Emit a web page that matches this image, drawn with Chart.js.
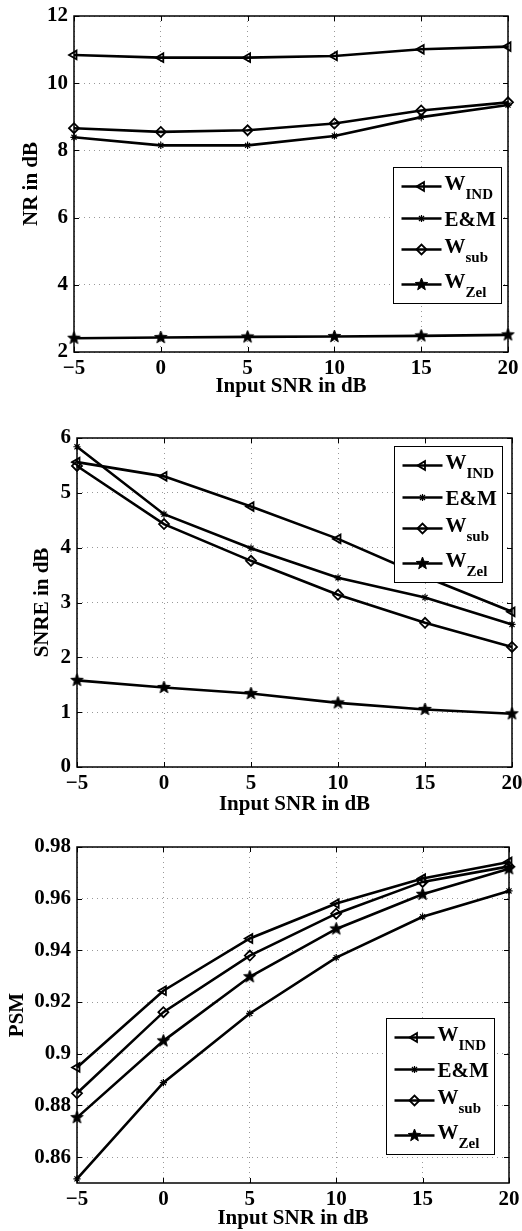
<!DOCTYPE html>
<html>
<head>
<meta charset="utf-8">
<script src="https://cdn.jsdelivr.net/npm/chart.js@4.4.0/dist/chart.umd.min.js"></script>
<style>
  html, body { margin: 0; padding: 0; background: #fff; }
  body { width: 522px; height: 1231px; position: relative; overflow: hidden; }
  canvas { position: absolute; left: 0; }
</style>
</head>
<body>
<canvas id="nrChart" width="522" height="399" style="top:0"></canvas>
<canvas id="snreChart" width="522" height="418" style="top:399px"></canvas>
<canvas id="psmChart" width="522" height="414" style="top:817px"></canvas>
<script>
/* ------------------------------------------------------------------
   DATA
   ------------------------------------------------------------------ */
const snrLevels = [-5, 0, 5, 10, 15, 20];

// legend labels: [main text, subscript]
const legendLabels = [['W', 'IND'], ['E&M', ''], ['W', 'sub'], ['W', 'Zel']];

// NR in dB
const nrWind = [10.84, 10.76, 10.76, 10.81, 11.01, 11.09];
const nrEM   = [8.39, 8.15, 8.15, 8.43, 8.99, 9.35];
const nrWsub = [8.66, 8.55, 8.60, 8.80, 9.19, 9.43];
const nrWzel = [2.41, 2.43, 2.45, 2.46, 2.48, 2.51];
const nrTicks = [2, 4, 6, 8, 10, 12];

// SNRE in dB
const snreWind = [5.56, 5.30, 4.75, 4.16, 3.47, 2.83];
const snreEM   = [5.84, 4.61, 3.99, 3.45, 3.09, 2.60];
const snreWsub = [5.49, 4.43, 3.76, 3.14, 2.63, 2.19];
const snreWzel = [1.58, 1.45, 1.34, 1.17, 1.05, 0.97];
const snreTicks = [0, 1, 2, 3, 4, 5, 6];

// PSM
const psmWind = [0.8947, 0.9244, 0.9446, 0.9581, 0.9678, 0.9742];
const psmEM   = [0.8516, 0.8888, 0.9156, 0.9372, 0.9530, 0.9630];
const psmWsub = [0.8847, 0.9161, 0.9380, 0.9542, 0.9665, 0.9725];
const psmWzel = [0.8753, 0.9050, 0.9298, 0.9483, 0.9617, 0.9716];
const psmTicks = [0.86, 0.88, 0.9, 0.92, 0.94, 0.96, 0.98];

/* ------------------------------------------------------------------
   STYLE HELPERS
   ------------------------------------------------------------------ */
const FONT = "'Liberation Serif', 'Times New Roman', serif";
const LINE_W = 2.6;

// filled five pointed star (matlab 'p' marker)
function makePentagram(r) {
    const c = document.createElement('canvas');
    const s = Math.ceil(r * 2) + 2;
    c.width = s; c.height = s;
    const g = c.getContext('2d');
    g.beginPath();
    for (let i = 0; i < 10; i++) {
        const rad = i % 2 === 0 ? r : r * 0.42;
        const a = -Math.PI / 2 + i * Math.PI / 5;
        const px = s / 2 + rad * Math.cos(a), py = s / 2 + rad * Math.sin(a);
        if (i === 0) g.moveTo(px, py); else g.lineTo(px, py);
    }
    g.closePath();
    g.fillStyle = '#000';
    g.fill();
    g.lineWidth = 1;
    g.strokeStyle = '#000';
    g.stroke();
    return c;
}
const starImg = makePentagram(6.5);

const markers = [
    { pointStyle: 'triangle', pointRotation: -90, pointRadius: 5, pointBorderWidth: 1.8 },
    { pointStyle: 'star', pointRotation: 0, pointRadius: 3.6, pointBorderWidth: 1.2 },
    { pointStyle: 'rectRot', pointRotation: 0, pointRadius: 5, pointBorderWidth: 1.8 },
    { pointStyle: starImg, pointRotation: 0, pointRadius: 7, pointBorderWidth: 1.8 }
];

function makeDatasets(seriesList) {
    return seriesList.map((vals, i) => ({
        label: legendLabels[i].join(''),
        data: vals,
        borderColor: '#000',
        borderWidth: LINE_W,
        pointBorderColor: '#000',
        pointBackgroundColor: 'rgba(0,0,0,0)',
        tension: 0,
        ...markers[i]
    }));
}

// box round the plot plus inward tick marks
const framePlugin = {
    id: 'frame',
    afterDatasetsDraw(chart) {
        const { ctx, chartArea: a, scales: { x, y } } = chart;
        const L = Math.round(a.left), R = Math.round(a.right);
        const T = Math.round(a.top), B = Math.round(a.bottom);
        ctx.save();
        ctx.strokeStyle = '#000';
        ctx.lineWidth = 1.5;
        ctx.strokeRect(L, T, R - L, B - T);
        ctx.lineWidth = 1;
        ctx.beginPath();
        x.ticks.forEach((t, i) => {
            const px = Math.round(x.getPixelForTick(i)) + 0.5;
            ctx.moveTo(px, B); ctx.lineTo(px, B - 5);
            ctx.moveTo(px, T); ctx.lineTo(px, T + 5);
        });
        y.ticks.forEach((t, i) => {
            const py = Math.round(y.getPixelForTick(i)) + 0.5;
            ctx.moveTo(L, py); ctx.lineTo(L + 5, py);
            ctx.moveTo(R, py); ctx.lineTo(R - 5, py);
        });
        ctx.stroke();
        ctx.restore();
    }
};

// legend box with subscripted labels
const subLegendPlugin = {
    id: 'subLegend',
    afterDraw(chart, args, opts) {
        const { ctx, chartArea: a } = chart;
        const w = 108, h = 136;
        const rows = [19, 51, 82, 117];
        const left = Math.round(a.right - opts.right - w) + 0.5;
        const top = Math.round(opts.top != null ? a.top + opts.top : a.bottom - opts.bottom - h) + 0.5;
        ctx.save();
        ctx.fillStyle = '#fff';
        ctx.fillRect(left, top, w, h);
        ctx.strokeStyle = '#000';
        ctx.lineWidth = 1;
        ctx.strokeRect(left, top, w, h);

        chart.data.datasets.forEach((ds, i) => {
            const yy = top + rows[i];
            ctx.strokeStyle = '#000';
            ctx.lineWidth = LINE_W;
            ctx.beginPath();
            ctx.moveTo(left + 8, yy);
            ctx.lineTo(left + 48, yy);
            ctx.stroke();
            ctx.lineWidth = ds.pointBorderWidth;
            ctx.fillStyle = 'rgba(0,0,0,0)';
            Chart.helpers.drawPoint(ctx, {
                pointStyle: ds.pointStyle,
                rotation: ds.pointRotation,
                radius: ds.pointRadius,
                borderWidth: ds.pointBorderWidth
            }, left + 28, yy);

            const [main, sub] = legendLabels[i];
            ctx.fillStyle = '#000';
            ctx.textAlign = 'left';
            ctx.textBaseline = 'alphabetic';
            ctx.font = 'bold 21px ' + FONT;
            if (sub) {
                ctx.fillText(main, left + 51, yy + 3);
                const mw = ctx.measureText(main).width;
                ctx.font = 'bold 15px ' + FONT;
                ctx.fillText(sub, left + 51 + mw, yy + 12);
            } else {
                ctx.fillText(main, left + 51, yy + 7);
            }
        });
        ctx.restore();
    }
};

/* ------------------------------------------------------------------
   CHART BUILDER
   ------------------------------------------------------------------ */
function buildChart(id, cfg) {
    const el = document.getElementById(id);
    const tickFont = { family: FONT, size: 21, weight: 'bold' };
    return new Chart(el.getContext('2d'), {
        type: 'line',
        data: {
            labels: snrLevels,
            datasets: makeDatasets(cfg.series)
        },
        options: {
            responsive: false,
            animation: false,
            layout: { padding: { top: cfg.area.top, right: el.width - cfg.area.right, left: 0, bottom: 0 } },
            scales: {
                x: {
                    type: 'category',
                    offset: false,
                    afterFit: (s) => { s.height = el.height - cfg.area.bottom; s.paddingLeft = 0; s.paddingRight = 0; },
                    ticks: {
                        color: '#000',
                        font: tickFont,
                        padding: 4,
                        maxRotation: 0,
                        autoSkip: false,
                        callback: (v, i) => String(snrLevels[i]).replace('-', '\u2212')
                    },
                    grid: { color: '#999', lineWidth: 1, drawTicks: false, borderDash: [1, 4] },
                    border: { display: false, dash: [1, 4] },
                    title: {
                        display: true,
                        text: 'Input SNR in dB',
                        color: '#000',
                        font: tickFont,
                        padding: { top: 0, bottom: 0 }
                    }
                },
                y: {
                    min: cfg.min,
                    max: cfg.max,
                    afterFit: (s) => { s.width = cfg.area.left; s.paddingTop = 0; s.paddingBottom = 0; },
                    afterBuildTicks: (s) => { s.ticks = cfg.ticks.map(v => ({ value: v })); },
                    ticks: {
                        color: '#000',
                        font: tickFont,
                        padding: 6,
                        callback: (v) => String(v)
                    },
                    grid: { color: '#999', lineWidth: 1, drawTicks: false, borderDash: [1, 4] },
                    border: { display: false, dash: [1, 4] },
                    title: {
                        display: true,
                        text: cfg.yTitle,
                        color: '#000',
                        font: tickFont,
                        padding: { top: cfg.yTitlePad, bottom: 0 }
                    }
                }
            },
            plugins: {
                legend: { display: false },
                tooltip: { enabled: false },
                subLegend: cfg.legend
            }
        },
        plugins: [framePlugin, subLegendPlugin]
    });
}

document.fonts.ready.then(() => {
    buildChart('nrChart', {
        series: [nrWind, nrEM, nrWsub, nrWzel],
        min: 2, max: 12, ticks: nrTicks,
        yTitle: 'NR in dB', yTitlePad: 19,
        area: { left: 74, right: 508, top: 16, bottom: 352 },
        legend: { right: 7, top: 151 }
    });

    buildChart('snreChart', {
        series: [snreWind, snreEM, snreWsub, snreWzel],
        min: 0, max: 6, ticks: snreTicks,
        yTitle: 'SNRE in dB', yTitlePad: 30,
        area: { left: 77, right: 512, top: 39, bottom: 368 },
        legend: { right: 10, top: 8 }
    });

    buildChart('psmChart', {
        series: [psmWind, psmEM, psmWsub, psmWzel],
        min: 0.85, max: 0.98, ticks: psmTicks,
        yTitle: 'PSM', yTitlePad: 5,
        area: { left: 77, right: 509, top: 30, bottom: 366 },
        legend: { right: 15, bottom: 29 }
    });
});
</script>
</body>
</html>
